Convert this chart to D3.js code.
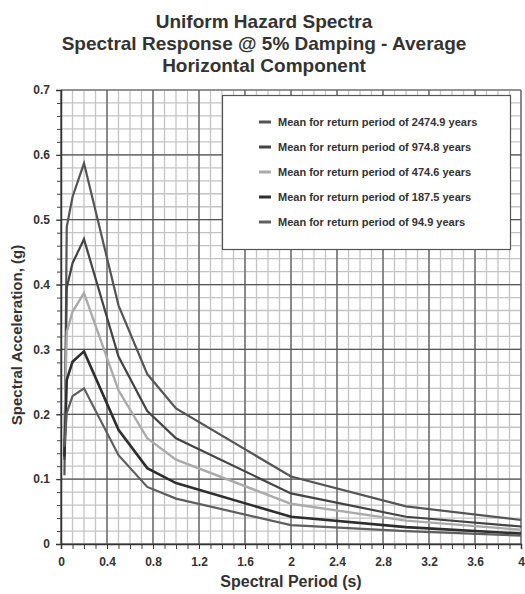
<!DOCTYPE html>
<html>
<head>
<meta charset="utf-8">
<script src="https://cdn.jsdelivr.net/npm/d3@7"></script>
<style>
  body { margin: 0; background: #fff; }
  text { font-family: Arial, "Liberation Sans", sans-serif; font-weight: bold; fill: #333; }
</style>
</head>
<body>
<div id="chart"></div>
<script>
// Spectral periods (s)
const periods = [0.03, 0.05, 0.1, 0.2, 0.5, 0.75, 1.0, 2.0, 3.0, 4.0];

// Mean spectral acceleration (g) per return period
const rp2474 = [0.106, 0.489, 0.535, 0.587, 0.368, 0.262, 0.209, 0.104, 0.058, 0.037];
const rp974  = [0.130, 0.395, 0.433, 0.470, 0.289, 0.205, 0.163, 0.078, 0.042, 0.027];
const rp474  = [0.170, 0.327, 0.358, 0.387, 0.237, 0.163, 0.130, 0.062, 0.036, 0.022];
const rp187  = [0.135, 0.253, 0.281, 0.297, 0.176, 0.117, 0.094, 0.042, 0.026, 0.016];
const rp94   = [0.150, 0.202, 0.228, 0.240, 0.137, 0.088, 0.070, 0.029, 0.020, 0.013];

const seriesNames = [
  "Mean for return period of 2474.9 years",
  "Mean for return period of 974.8 years",
  "Mean for return period of 474.6 years",
  "Mean for return period of 187.5 years",
  "Mean for return period of 94.9 years"
];
const seriesValues = [rp2474, rp974, rp474, rp187, rp94];
const seriesColors = ["#555", "#444", "#aaa", "#2e2e2e", "#5e5e5e"];
const seriesWidths = [2.2, 2.2, 2.4, 2.6, 2.2];

const xTickValues = [0, 0.4, 0.8, 1.2, 1.6, 2, 2.4, 2.8, 3.2, 3.6, 4];
const yTickValues = [0, 0.1, 0.2, 0.3, 0.4, 0.5, 0.6, 0.7];

const W = 525, H = 594;
const plotLeft = 61, plotRight = 521, plotTop = 90, plotBottom = 544;

const svg = d3.select("#chart").append("svg")
  .attr("width", W).attr("height", H);

const x = d3.scaleLinear().domain([0, 4]).range([plotLeft, plotRight]);
const y = d3.scaleLinear().domain([0, 0.7]).range([plotBottom, plotTop]);

// minor grid
const xMinor = d3.range(0, 41).map(i => i / 10);
const yMinor = d3.range(0, 36).map(i => i * 0.02);

const grid = svg.append("g");
grid.selectAll(".vminor").data(xMinor).enter().append("line")
  .attr("x1", d => x(d)).attr("x2", d => x(d))
  .attr("y1", plotTop).attr("y2", plotBottom)
  .attr("stroke", "#c4c4c4").attr("stroke-width", 1.3);
grid.selectAll(".hminor").data(yMinor).enter().append("line")
  .attr("x1", plotLeft).attr("x2", plotRight)
  .attr("y1", d => y(d)).attr("y2", d => y(d))
  .attr("stroke", "#c4c4c4").attr("stroke-width", 1.3);

// major grid
grid.selectAll(".vmajor").data(xTickValues).enter().append("line")
  .attr("x1", d => x(d)).attr("x2", d => x(d))
  .attr("y1", plotTop).attr("y2", plotBottom)
  .attr("stroke", "#555").attr("stroke-width", 1.2);
grid.selectAll(".hmajor").data(yTickValues).enter().append("line")
  .attr("x1", plotLeft).attr("x2", plotRight)
  .attr("y1", d => y(d)).attr("y2", d => y(d))
  .attr("stroke", "#555").attr("stroke-width", 1.2);

// minor ticks
svg.append("g")
  .attr("transform", `translate(0,${plotBottom})`)
  .call(d3.axisBottom(x).tickValues(xMinor).tickSize(5).tickFormat(""))
  .call(g => g.select(".domain").remove())
  .selectAll("line").attr("stroke", "#444");
svg.append("g")
  .attr("transform", `translate(${plotLeft},0)`)
  .call(d3.axisLeft(y).tickValues(yMinor).tickSize(4).tickFormat(""))
  .call(g => g.select(".domain").remove())
  .selectAll("line").attr("stroke", "#444");

// axes with labels
const xAxis = svg.append("g")
  .attr("transform", `translate(0,${plotBottom})`)
  .call(d3.axisBottom(x).tickValues(xTickValues).tickSize(5).tickPadding(8).tickFormat(d3.format("~g")));
xAxis.select(".domain").attr("stroke", "#333").attr("stroke-width", 1.5);
xAxis.selectAll("line").attr("stroke", "#333");
xAxis.selectAll("text").style("font-size", "12px").attr("fill", "#333");

const yAxis = svg.append("g")
  .attr("transform", `translate(${plotLeft},0)`)
  .call(d3.axisLeft(y).tickValues(yTickValues).tickSize(5).tickPadding(6).tickFormat(d3.format("~g")));
yAxis.select(".domain").attr("stroke", "#333").attr("stroke-width", 1.5);
yAxis.selectAll("line").attr("stroke", "#333");
yAxis.selectAll("text").style("font-size", "12px").attr("fill", "#333");

// curves
const line = d3.line()
  .x((d, i) => x(periods[i]))
  .y(d => y(d));

svg.selectAll(".curve").data(seriesValues).enter().append("path")
  .attr("d", d => line(d))
  .attr("fill", "none")
  .attr("stroke", (d, i) => seriesColors[i])
  .attr("stroke-width", (d, i) => seriesWidths[i])
  .attr("stroke-linejoin", "miter");

// legend
const lg = svg.append("g");
lg.append("rect")
  .attr("x", 222.5).attr("y", 95.5).attr("width", 288).attr("height", 154)
  .attr("fill", "#fff").attr("stroke", "#555").attr("stroke-width", 1.2);
const items = lg.selectAll(".item").data(seriesNames).enter().append("g")
  .attr("transform", (d, i) => `translate(0,${122 + i * 25})`);
items.append("line")
  .attr("x1", 259).attr("x2", 271).attr("y1", 0).attr("y2", 0)
  .attr("stroke", (d, i) => seriesColors[i]).attr("stroke-width", 3);
items.append("text")
  .attr("x", 278).attr("y", 4)
  .style("font-size", "11px")
  .text(d => d);

// titles
const titleLines = ["Uniform Hazard Spectra", "Spectral Response @ 5% Damping - Average", "Horizontal Component"];
svg.selectAll(".title").data(titleLines).enter().append("text")
  .attr("x", 264).attr("y", (d, i) => 28 + i * 22)
  .attr("text-anchor", "middle")
  .style("font-size", "19px")
  .text(d => d);

svg.append("text")
  .attr("x", (plotLeft + plotRight) / 2).attr("y", 587)
  .attr("text-anchor", "middle")
  .style("font-size", "16px")
  .text("Spectral Period (s)");

svg.append("text")
  .attr("transform", `translate(22,335) rotate(-90)`)
  .attr("text-anchor", "middle")
  .style("font-size", "15px")
  .text("Spectral Acceleration, (g)");
</script>
</body>
</html>
